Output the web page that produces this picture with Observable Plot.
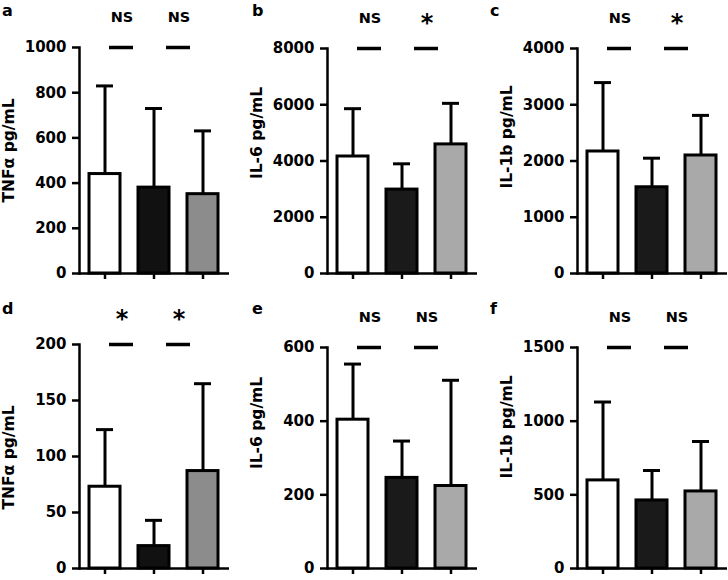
<!DOCTYPE html>
<html><head><meta charset="utf-8">
<script src="https://cdn.jsdelivr.net/npm/d3@7"></script>
<script src="https://cdn.jsdelivr.net/npm/@observablehq/plot@0.6"></script>
<style>
body{margin:0;background:#fff;overflow:hidden}
#chart{position:relative;width:728px;height:580px;font-family:"DejaVu Sans",sans-serif}
.panel{position:absolute}
.letter{position:absolute;font-weight:bold;font-size:16px;line-height:1}
</style></head><body><div id="chart"></div>
<script>
// Three unlabeled groups (white, black, grey bars)
const groups = ["Group 1", "Group 2", "Group 3"];

// Panel a: TNFα (top row)
const meansA = [440, 380, 351];
const upperA = [830, 730, 631];
const ticksA = [0, 200, 400, 600, 800, 1000];
const sigA = ["NS", "NS"];

// Panel b: IL-6 (top row)
const meansB = [4160, 2984, 4590];
const upperB = [5860, 3900, 6050];
const ticksB = [0, 2000, 4000, 6000, 8000];
const sigB = ["NS", "*"];

// Panel c: IL-1b (top row)
const meansC = [2169, 1533, 2098];
const upperC = [3394, 2050, 2811];
const ticksC = [0, 1000, 2000, 3000, 4000];
const sigC = ["NS", "*"];

// Panel d: TNFα (bottom row)
const meansD = [73, 20, 87];
const upperD = [124, 43, 165];
const ticksD = [0, 50, 100, 150, 200];
const sigD = ["*", "*"];

// Panel e: IL-6 (bottom row)
const meansE = [404, 246, 224];
const upperE = [555, 346, 511];
const ticksE = [0, 200, 400, 600];
const sigE = ["NS", "NS"];

// Panel f: IL-1b (bottom row)
const meansF = [598, 462, 523];
const upperF = [1130, 665, 862];
const ticksF = [0, 500, 1000, 1500];
const sigF = ["NS", "NS"];

const letters = ["a", "b", "c", "d", "e", "f"];
const yLabels = ["TNFα pg/mL", "IL-6 pg/mL", "IL-1b pg/mL", "TNFα pg/mL", "IL-6 pg/mL", "IL-1b pg/mL"];

const fillsDark = ["#ffffff", "#111111", "#8c8c8c"];
const fillsLight = ["#ffffff", "#1a1a1a", "#a9a9a9"];
// pixel offset of each significance bar from the left bar's centre (style)
const sigShift = [17, 25];

const panels = [
  {means: meansA, upper: upperA, ticks: ticksA, sig: sigA, fills: fillsDark, left: 0, top: 0, mt: 47, mb: 17, labelDy: -10, lx: 2, ly: 3},
  {means: meansB, upper: upperB, ticks: ticksB, sig: sigB, fills: fillsLight, left: 248, top: 0, mt: 48, mb: 17, labelDy: -28, lx: 252, ly: 3},
  {means: meansC, upper: upperC, ticks: ticksC, sig: sigC, fills: fillsLight, left: 498, top: 0, mt: 48, mb: 17, labelDy: -24, lx: 490, ly: 3},
  {means: meansD, upper: upperD, ticks: ticksD, sig: sigD, fills: fillsDark, left: 0, top: 290, mt: 54, mb: 12, labelDy: 1, lx: 2, ly: 301},
  {means: meansE, upper: upperE, ticks: ticksE, sig: sigE, fills: fillsLight, left: 248, top: 290, mt: 57, mb: 12, labelDy: -35, lx: 252, ly: 301},
  {means: meansF, upper: upperF, ticks: ticksF, sig: sigF, fills: fillsLight, left: 498, top: 290, mt: 57, mb: 12, labelDy: -31, lx: 490, ly: 301}
];

const chart = document.getElementById("chart");

panels.forEach((p, k) => {
  const rows = groups.map((g, i) => ({group: g, mean: p.means[i], upper: p.upper[i], fill: p.fills[i]}));
  const comps = p.sig.map((s, i) => ({from: groups[i], to: groups[i + 1], label: s}));
  const ymax = p.ticks[p.ticks.length - 1];
  const sigMarks = comps.flatMap((c, i) => {
    const shift = sigShift[i];
    const star = c.label === "*";
    return [
      Plot.ruleY([c], {y: () => ymax, x1: "from", x2: "to", insetLeft: 28 - (25 - shift), insetRight: 28 + (25 - shift), stroke: "#000", strokeWidth: 3.5}),
      Plot.text([c], {x: "from", y: () => ymax, text: "label", dx: shift, dy: star ? -25 : -30, fontSize: star ? 24 : 14.5, fontWeight: "bold"})
    ];
  });
  const svg = Plot.plot({
    width: 230,
    height: 290,
    marginLeft: 79,
    marginRight: 1,
    marginTop: p.mt,
    marginBottom: p.mb,
    style: {fontFamily: "DejaVu Sans", fontWeight: "bold", fontSize: "15px", color: "#000", background: "transparent", overflow: "visible"},
    x: {type: "band", domain: groups, paddingInner: 0.36, paddingOuter: 0.195, axis: null},
    y: {domain: [0, ymax], axis: null},
    color: {type: "identity"},
    marks: [
      Plot.barY(rows, {x: "group", y: "mean", fill: "fill", stroke: "#000", strokeWidth: 3}),
      Plot.ruleX(rows, {x: "group", y1: "mean", y2: "upper", stroke: "#000", strokeWidth: 3}),
      Plot.tickY(rows, {x: "group", y: "upper", stroke: "#000", strokeWidth: 3, insetLeft: 7, insetRight: 7}),
      Plot.frame({anchor: "left", stroke: "#000", strokeWidth: 2.5}),
      Plot.ruleY([0], {stroke: "#000", strokeWidth: 2.5}),
      Plot.axisY({ticks: p.ticks, tickFormat: "d", tickSize: 7, tickPadding: 6, strokeWidth: 2.5, label: null, fontSize: 15}),
      Plot.axisX({tickSize: 6, tickFormat: () => "", strokeWidth: 2.5, label: null}),
      ...sigMarks,
      Plot.text([yLabels[k]], {frameAnchor: "left", textAnchor: "middle", text: d => d, rotate: -90, dx: -70, dy: p.labelDy, fontSize: 15.5, fontWeight: "bold"})
    ]
  });
  svg.classList.add("panel");
  svg.style.left = p.left + "px";
  svg.style.top = p.top + "px";
  chart.appendChild(svg);
  const lt = document.createElement("div");
  lt.className = "letter";
  lt.textContent = letters[k];
  lt.style.left = p.lx + "px";
  lt.style.top = p.ly + "px";
  chart.appendChild(lt);
});
</script>
</body></html>
